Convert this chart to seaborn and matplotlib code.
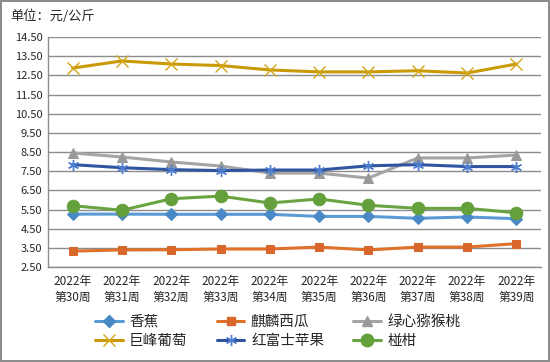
"""Weekly fruit prices (元/公斤), weeks 30-39 of 2022."""

import matplotlib
matplotlib.use("Agg")

import matplotlib.pyplot as plt
from matplotlib.lines import Line2D
import seaborn as sns

weeks = ["2022年\n第30周", "2022年\n第31周", "2022年\n第32周", "2022年\n第33周",
         "2022年\n第34周", "2022年\n第35周", "2022年\n第36周", "2022年\n第37周",
         "2022年\n第38周", "2022年\n第39周"]

banana = [5.26, 5.26, 5.25, 5.25, 5.25, 5.14, 5.14, 5.04, 5.11, 5.02]
melon = [3.33, 3.39, 3.40, 3.44, 3.44, 3.54, 3.39, 3.54, 3.54, 3.72]
kiwi = [8.45, 8.24, 7.98, 7.77, 7.40, 7.40, 7.14, 8.19, 8.19, 8.34]
grape = [12.88, 13.25, 13.09, 13.01, 12.78, 12.68, 12.68, 12.74, 12.62, 13.09]
apple = [7.84, 7.68, 7.58, 7.53, 7.56, 7.56, 7.78, 7.84, 7.74, 7.74]
citrus = [5.70, 5.46, 6.06, 6.20, 5.84, 6.05, 5.72, 5.56, 5.56, 5.33]

yticks = [2.5, 3.5, 4.5, 5.5, 6.5, 7.5, 8.5, 9.5, 10.5, 11.5, 12.5, 13.5, 14.5]

sns.set_theme(style="white")
plt.rcParams["font.family"] = ["Noto Sans CJK SC", "DejaVu Sans"]

ASTERISK = (6, 2, 0)

# name, values, line colour, marker, marker size, marker face
series = [
    ("香蕉", banana, "#5B9BD5", "D", 6, "#4A89C8"),
    ("麒麟西瓜", melon, "#E07128", "s", 6, "#D9662A"),
    ("绿心猕猴桃", kiwi, "#A5A5A5", "^", 7, "#999999"),
    ("巨峰葡萄", grape, "#C99A06", "x", 8, "#D4A514"),
    ("红富士苹果", apple, "#2F55A0", ASTERISK, 8, "#4F7FD0"),
    ("椪柑", citrus, "#6AA442", "o", 9, "#64A03C"),
]

fig = plt.figure(figsize=(5.5, 3.62), dpi=100)
fig.patch.set_edgecolor("#8C8C8C")
fig.patch.set_linewidth(1.5)
ax = fig.add_axes([0.0873, 0.2624, 0.8963, 0.6354])

x = list(range(len(weeks)))
handles = []
for name, vals, color, marker, size, face in series:
    kw = dict(markerfacecolor=face, markeredgecolor=face)
    if marker in ("x", ASTERISK):
        kw = dict(markeredgecolor=face, markeredgewidth=1.0)
    sns.lineplot(x=x, y=vals, ax=ax, color=color, linewidth=2.2,
                 marker=marker, markersize=size, **kw)
    handles.append(Line2D([], [], color=color, linewidth=2.2, marker=marker,
                          markersize=size, label=name, **kw))

ax.set_xlim(-0.5, len(weeks) - 0.5)
ax.set_ylim(2.5, 14.5)
ax.set_yticks(yticks)
ax.set_yticklabels([f"{v:.2f}" for v in yticks], fontsize=8)
ax.set_xticks(x)
ax.set_xticklabels(weeks, fontsize=8.5, linespacing=1.3)
ax.set_xticks([i - 0.5 for i in range(len(weeks) + 1)], minor=True)
ax.tick_params(axis="x", which="major", length=0, pad=6)
ax.tick_params(axis="x", which="minor", length=5, color="#8C8C8C", direction="out")
ax.tick_params(axis="y", length=0, pad=4)
ax.yaxis.grid(True, color="#8C8C8C", linewidth=1)
ax.set_axisbelow(True)
for side in ("top", "right"):
    ax.spines[side].set_visible(False)
for side in ("left", "bottom"):
    ax.spines[side].set_color("#8C8C8C")
    ax.spines[side].set_linewidth(1)

fig.text(0.018, 0.955, "单位：元/公斤", fontsize=9.5, va="center", ha="left")

# ncol=3 fills column-wise, so reorder to read row by row like the original
order = [0, 3, 1, 4, 2, 5]
fig.legend([handles[i] for i in order], [handles[i].get_label() for i in order],
           ncol=3, loc="center", bbox_to_anchor=(0.505, 0.085), frameon=False,
           fontsize=10.5, handlelength=1.9, columnspacing=2.0, labelspacing=0.35,
           handletextpad=0.45)

fig.savefig("out.png", dpi=100)
